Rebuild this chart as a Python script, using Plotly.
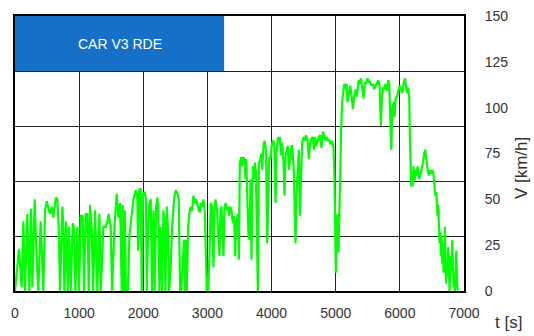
import plotly.graph_objects as go

# Time [s] and speed [km/h]
time_s = [0, 26, 62, 104, 130, 156, 192, 224, 250, 270, 307, 338, 364, 400, 442, 468, 494, 520, 546, 572, 598, 620, 640, 660, 681, 702, 738, 754, 770, 796, 822, 842, 868, 900, 920, 941, 972, 998, 1024, 1056, 1076, 1102, 1128, 1149, 1170, 1196, 1217, 1248, 1284, 1316, 1336, 1378, 1420, 1440, 1461, 1492, 1513, 1550, 1586, 1612, 1638, 1664, 1680, 1700,
          1712, 1730, 1760, 1784, 1846, 1882, 1908, 1918, 1934, 1960, 1976, 1996, 2022, 2043, 2054, 2074, 2095, 2116, 2137, 2158, 2178, 2199, 2220, 2236, 2251, 2272, 2293, 2314, 2329, 2345, 2366, 2386, 2402, 2428, 2449, 2480, 2506, 2532, 2553, 2574,
          2590, 2636, 2652, 2668, 2678, 2699, 2720, 2740, 2761, 2782, 2803, 2824, 2844, 2865, 2886, 2896, 2917, 2938, 2959, 2974, 2990, 3011, 3032, 3052, 3073, 3094, 3110, 3125, 3146, 3167, 3188, 3203, 3219, 3234, 3250, 3266, 3286, 3307, 3323, 3338, 3354, 3375, 3396, 3416, 3432, 3448, 3474, 3490,
          3505, 3526, 3542, 3562, 3578, 3594, 3604, 3620, 3640, 3656, 3672, 3687, 3708, 3724, 3739, 3755, 3770, 3786, 3802, 3822, 3838, 3854, 3874, 3890, 3906, 3916, 3932, 3947, 3963, 3984, 4000, 4020, 4041, 4062, 4077, 4098, 4114, 4129, 4145, 4166, 4186, 4202, 4218, 4238, 4254, 4270, 4290, 4310, 4321,
          4347, 4363, 4373, 4389, 4409, 4425, 4441, 4461, 4477, 4498, 4519, 4539, 4560, 4581, 4602, 4623, 4643, 4659, 4675, 4695, 4716, 4737, 4758, 4779, 4799, 4820, 4841, 4862, 4882, 4903, 4924, 4945, 4966, 4981, 4992, 5002, 5013, 5028, 5044, 5060, 5070, 5086, 5101, 5117, 5132,
          5153, 5170, 5184, 5205, 5226, 5252, 5267, 5288, 5309, 5330, 5356, 5372, 5392, 5413, 5434, 5455, 5476, 5496, 5517, 5538, 5564, 5580, 5600, 5621, 5642, 5663, 5684, 5704, 5720, 5736, 5756, 5777, 5798, 5819, 5834, 5850, 5866, 5881, 5902, 5918, 5933, 5954, 5975, 5996, 6016, 6037, 6058, 6079, 6094, 6110, 6131, 6146,
          6156, 6167, 6177, 6188, 6198, 6214, 6229, 6245, 6260, 6276, 6297, 6318, 6338, 6359, 6380, 6396, 6406, 6422, 6437, 6453, 6474, 6494, 6510, 6526, 6536, 6552, 6567, 6578, 6588, 6598, 6609, 6619, 6630, 6640, 6650, 6661, 6671, 6682, 6692, 6702, 6713, 6723, 6734, 6744, 6754, 6765, 6775, 6786, 6796, 6806, 6817, 6827, 6838, 6848, 6858, 6869, 6879, 6890, 6900]

speed_kmh = [0, 11, 23, 2, 38, 0, 42, 0, 45, 2, 50, 17, 0, 38, 0, 44, 49, 45, 42, 46, 40, 47, 51, 50, 35, 0, 46, 35, 0, 38, 0, 35, 0, 37, 35, 0, 35, 0, 41, 41, 0, 42, 42, 0, 47, 33, 0, 44, 0, 42, 0, 35, 35, 38, 42, 35, 0, 35, 53, 40, 48, 0, 47, 0,
             44, 0, 0, 30, 50, 55, 52, 22, 55, 56, 0, 53, 54, 50, 0, 32, 48, 50, 0, 44, 0, 46, 51, 44, 0, 35, 0, 44, 38, 0, 46, 32, 0, 13, 35, 50, 55, 53, 50, 0,
             0, 28, 0, 28, 0, 35, 43, 46, 44, 52, 48, 50, 46, 44, 43, 48, 46, 50, 43, 17, 0, 0, 19, 48, 46, 13, 44, 50, 46, 32, 19, 44, 46, 35, 19, 46, 48, 44, 46, 41, 46, 44, 37, 41, 19, 37, 42, 17,
             70, 73, 68, 73, 72, 61, 72, 53, 30, 28, 61, 17, 68, 61, 70, 65, 42, 0, 70, 71, 75, 66, 79, 82, 79, 73, 26, 61, 73, 72, 79, 82, 81, 48, 75, 84, 82, 84, 74, 81, 70, 52, 74, 77, 79, 66, 75, 79, 79,
             66, 39, 26, 52, 72, 77, 41, 66, 81, 84, 82, 85, 82, 72, 81, 83, 84, 77, 84, 79, 82, 84, 85, 78, 87, 84, 82, 84, 82, 82, 80, 82, 78, 61, 41, 10, 33, 42, 21, 48, 75, 90, 103, 108, 113,
             110, 113, 103, 108, 112, 105, 99, 106, 110, 106, 115, 113, 116, 111, 105, 114, 113, 116, 114, 114, 112, 113, 110, 112, 114, 115, 112, 90, 105, 111, 110, 113, 109, 115, 113, 90, 77, 99, 103, 95, 105, 106, 110, 112, 110, 108, 113, 116, 112, 108, 111, 106,
             84, 66, 57, 64, 57, 68, 60, 66, 63, 68, 61, 63, 66, 70, 75, 77, 74, 68, 65, 63, 66, 64, 66, 63, 59, 52, 54, 44, 41, 47, 35, 26, 32, 19, 30, 15, 26, 10, 21, 35, 15, 4, 15, 8, 24, 8, 0, 11, 19, 11, 28, 15, 2, 8, 0, 11, 22, 8, 0]

x_ticks = [0, 1000, 2000, 3000, 4000, 5000, 6000, 7000]
y_ticks = [0, 25, 50, 75, 100, 125, 150]
grid_levels = [30, 60, 90, 120]
banner_label = "CAR V3 RDE"
x_title = "t [s]"
y_title = "V [km/h]"

FONT = "Liberation Sans, Arial, sans-serif"
TXT = "#333333"

fig = go.Figure()

fig.add_trace(go.Scatter(x=time_s, y=speed_kmh, mode="lines",
                         line=dict(color="#00FF00", width=2.2),
                         hoverinfo="skip", showlegend=False))
# invisible helper trace for the grid axis
fig.add_trace(go.Scatter(x=[0], y=[0], yaxis="y2", mode="markers",
                         marker=dict(opacity=0), hoverinfo="skip", showlegend=False))

fig.update_layout(
    width=534, height=336,
    margin=dict(l=15, r=70, t=16, b=45, autoexpand=False),
    paper_bgcolor="white", plot_bgcolor="white",
    font=dict(family=FONT, size=14, color=TXT),
    xaxis=dict(range=[0, 7000], tickvals=x_ticks, ticktext=[str(v) for v in x_ticks],
               showgrid=True, gridcolor="#222222", gridwidth=1, automargin=False,
               zeroline=False, showline=True, mirror=True, linecolor="black", linewidth=2,
               ticks="", ticklabelstandoff=8, tickfont=dict(size=14, color=TXT)),
    yaxis=dict(range=[0, 150], tickvals=y_ticks, ticktext=[str(v) for v in y_ticks],
               side="right", showgrid=False, zeroline=False, automargin=False,
               showline=True, mirror=True, linecolor="black", linewidth=2,
               ticks="", ticklabelstandoff=16, tickfont=dict(size=14, color=TXT)),
    yaxis2=dict(range=[0, 150], tickvals=grid_levels, overlaying="y", side="left",
                showgrid=True, gridcolor="#222222", gridwidth=1, automargin=False,
                showticklabels=False, zeroline=False, ticks=""),
)

fig.add_shape(type="rect", xref="x", yref="y", x0=0, x1=3260, y0=120, y1=150,
              fillcolor="#1670C8", line=dict(width=0), layer="above")
fig.add_annotation(x=1630, y=135, xref="x", yref="y", text=banner_label, showarrow=False,
                   font=dict(family=FONT, size=14, color="white"))

fig.add_annotation(x=1.127, y=0.447, xref="paper", yref="paper", text=y_title,
                   textangle=-90, showarrow=False, xanchor="center", yanchor="middle",
                   font=dict(family=FONT, size=17, color=TXT))
fig.add_annotation(x=1.098, y=-0.116, xref="paper", yref="paper", text=x_title,
                   showarrow=False, xanchor="center", yanchor="middle",
                   font=dict(family=FONT, size=17, color=TXT))

fig.write_html("out.html", config={"displayModeBar": False},
               post_script="document.body.style.margin='0';document.body.style.overflow='hidden';")
